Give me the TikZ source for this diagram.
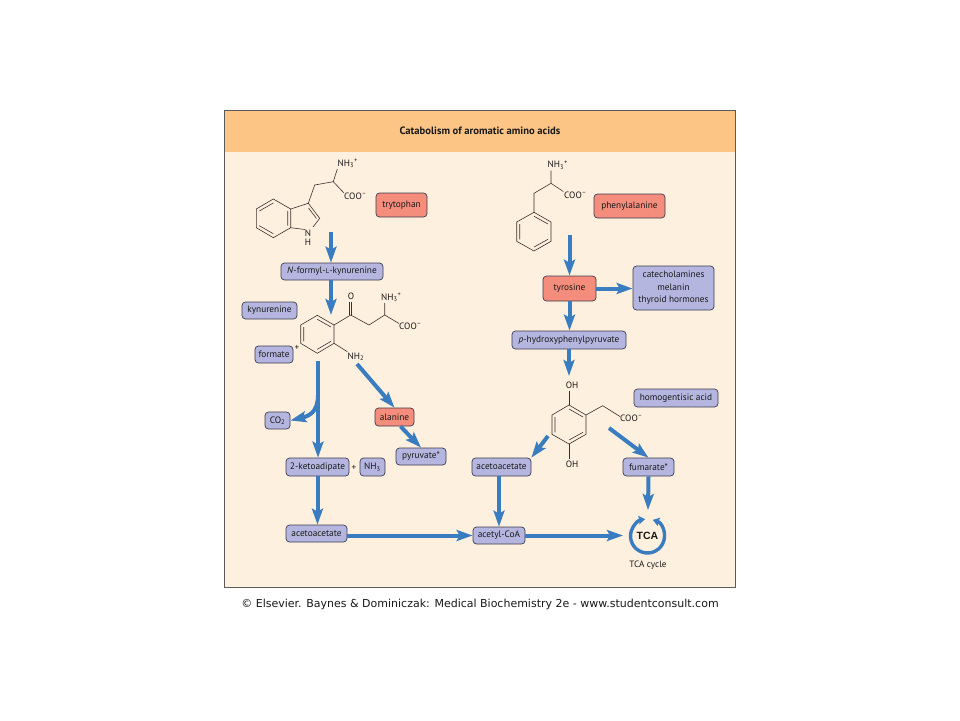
\documentclass[tikz,border=0pt]{standalone}
\usepackage{fontspec}
\setmainfont{PT Sans}
\newfontfamily\footfont{DejaVu Sans}
\newfontfamily\tcafont{Liberation Sans}
\usetikzlibrary{arrows.meta}
\definecolor{panelbg}{HTML}{FEF0DE}
\definecolor{headbg}{HTML}{FDC585}
\definecolor{panelline}{HTML}{5A5A58}
\definecolor{pastelblue}{HTML}{B5B6DF}
\definecolor{pastelred}{HTML}{F58D7C}
\definecolor{boxline}{HTML}{3C3A50}
\definecolor{flowblue}{HTML}{3A7CC0}
\definecolor{bondgrey}{HTML}{3A3230}
\tikzset{
	metabox/.style={draw=boxline, line width=0.7pt, rounded corners=3.5pt, fill=pastelblue, inner sep=0pt, align=center, font=\fontsize{9.3}{12.6}\selectfont, text=black!90},
	keybox/.style={metabox, fill=pastelred},
	flow/.style={draw=flowblue, line width=4pt, -{Stealth[length=16pt, width=11pt, inset=3pt]}},
	ring/.style={draw=flowblue, line width=3.4pt, {Stealth[length=6.5pt, width=8.5pt, inset=1pt]}-{Stealth[length=6.5pt, width=8.5pt, inset=1pt]}},
	bond/.style={draw=bondgrey, line width=0.6pt},
	atom/.style={font=\fontsize{9.2}{11}\selectfont, text=black!90, inner sep=0pt}
}
\begin{document}
\begin{tikzpicture}[x=1pt, y=-1pt]
	\useasboundingbox (0,0) rectangle (960,720);
	\draw[panelline, line width=1pt, fill=panelbg] (224,110) rectangle (735,587);
	\fill[headbg] (224.5,110.5) rectangle (734.5,152);
	\draw[panelline, line width=1pt] (224,110) rectangle (735,587);
	\node[font=\fontsize{10.6}{12}\selectfont\bfseries, text=black!90, inner sep=0pt] (title) at (480,131) {Catabolism of aromatic amino acids};

	%% boxes, left side
	\node[keybox, minimum width=51pt, minimum height=24pt] (trp) at (401.5,205) {trytophan};
	\node[metabox, minimum width=102pt, minimum height=17pt] (formyl) at (332,271.5) {\textit{N}-formyl-{\scriptsize L}-kynurenine};
	\node[metabox, minimum width=55pt, minimum height=17pt] (kyn) at (269.5,310.5) {kynurenine};
	\node[metabox, minimum width=38pt, minimum height=17pt] (formate) at (274,354.5) {formate};
	\node[atom] (plus1) at (297,348) {+};
	\node[metabox, minimum width=25pt, minimum height=17pt] (co2) at (277.5,420.5) {CO\textsubscript{2}};
	\node[metabox, minimum width=63pt, minimum height=18pt] (keto) at (317.5,467) {2-ketoadipate};
	\node[atom] (plus2) at (354,468) {+};
	\node[metabox, minimum width=25pt, minimum height=18pt] (nh3) at (372.5,467) {NH\textsubscript{3}};
	\node[keybox, minimum width=39pt, minimum height=18pt] (ala) at (394.5,417) {alanine};
	\node[metabox, minimum width=50pt, minimum height=17pt] (pyr) at (421,456.5) {pyruvate*};
	\node[metabox, minimum width=61pt, minimum height=17pt] (acetoL) at (316.5,533.5) {acetoacetate};

	%% boxes, right side
	\node[keybox, minimum width=71pt, minimum height=24pt] (phe) at (629.5,206) {phenylalanine};
	\node[keybox, minimum width=53pt, minimum height=25pt] (tyr) at (569.5,288.5) {tyrosine};
	\node[metabox, minimum width=81pt, minimum height=44pt] (cat) at (673.5,288) {catecholamines\\melanin\\thyroid hormones};
	\node[metabox, minimum width=114pt, minimum height=18pt] (hpp) at (569,340) {\textit{p}-hydroxyphenylpyruvate};
	\node[metabox, minimum width=84pt, minimum height=18pt] (hga) at (676,398) {homogentisic acid};
	\node[metabox, minimum width=59pt, minimum height=18pt] (acetoR) at (501.5,467) {acetoacetate};
	\node[metabox, minimum width=51pt, minimum height=18pt] (fum) at (648.5,467) {fumarate*};
	\node[metabox, minimum width=52pt, minimum height=17pt] (coa) at (499,535.5) {acetyl-CoA};
	\node[font=\fontsize{10.5}{12}\selectfont\tcafont\bfseries, text=black!90, inner sep=0pt] (tca) at (647.5,535.5) {TCA};
	\node[atom] (cycle) at (648,565) {TCA cycle};
	\node[font=\fontsize{11}{13}\selectfont\footfont, text=black!90, inner sep=0pt] (foot) at (480,604.5) {© Elsevier. Baynes \& Dominiczak: Medical Biochemistry 2e - www.studentconsult.com};

	%% free ends of the arrows
	\coordinate (trpout) at (331,232);
	\coordinate (kynin) at (331,315);
	\coordinate (kynout) at (318,361);
	\coordinate (split) at (318,395);
	\coordinate (nh2out) at (357,364);
	\coordinate (pheout) at (569.5,235);
	\coordinate (hgain) at (569,376);
	\coordinate (hgaL) at (548,436);
	\coordinate (hgaR) at (609,428);
	\coordinate (tcatop) at (648,510);
	\coordinate (tcaleft) at (623,535.5);

	%% arrows
	\draw[flow] (trpout) -- (formyl.north -| trpout);
	\draw[flow] (formyl.south -| kynin) -- (kynin);
	\draw[flow] (kynout) -- (keto.north -| kynout);
	\draw[flow] (split) .. controls (318,412) and (309,416) .. (co2.east);
	\draw[flow] (nh2out) -- (ala.north);
	\draw[flow] (ala.south) ++(6,0) coordinate (alaout) (alaout) -- (pyr.north);
	\draw[flow] (keto.south) -- (keto.south |- acetoL.north);
	\draw[flow] (acetoL.east |- coa.west) -- (coa.west);
	\draw[flow] (pheout) -- (tyr.north -| pheout);
	\draw[flow] (tyr.south) -- (hpp.north -| tyr.south);
	\draw[flow] (tyr.east) -- (tyr.east -| cat.west);
	\draw[flow] (hpp.south) -- (hgain);
	\draw[flow] (hgaL) -- (acetoR.north east);
	\draw[flow] (hgaR) -- (fum.north);
	\draw[flow] (acetoR.south -| coa.north) -- (coa.north);
	\draw[flow] (fum.south) -- (tcatop);
	\draw[flow] (coa.east) -- (tcaleft);

	%% TCA ring
	\draw[ring] (647.5,536) ++(-72:17) arc[start angle=-72, end angle=262, radius=17];

	%% tryptophan
	\draw[bond] (256.3,209) -- (273.3,199) -- (290.7,209) -- (290.7,227.7) -- (273.3,237.7) -- (256.3,227.7) -- cycle;
	\draw[bond] (259.3,211) -- (273.3,203) (287.7,211) -- (287.7,225.7) (259.3,225.7) -- (273.3,233.7);
	\draw[bond] (290.7,209) -- (308.3,203.3) -- (319.7,218.3) -- (313,227) (305,229.5) -- (290.7,227.7);
	\draw[bond] (308.5,208) -- (316.5,218.5);
	\draw[bond] (308.3,203.3) -- (314.7,185) -- (333.3,181.7) -- (344,193) (333.3,181.7) -- (337.3,169);
	\node[atom] (trpN) at (308,233) {N};
	\node[atom] (trpH) at (308,242.5) {H};
	\node[atom, anchor=west] (trpNH) at (337.5,163.5) {NH\textsubscript{3}\textsuperscript{+}};
	\node[atom, anchor=west] (trpCOO) at (344,196.5) {COO\textsuperscript{--}};

	%% kynurenine ring
	\draw[bond] (300.7,325) -- (317.3,315.3) -- (334,325) -- (334,343.3) -- (317.3,353.3) -- (300.7,343.3) -- cycle;
	\draw[bond] (303.7,327) -- (303.7,341.3) (317.3,319.3) -- (331,327) (317.3,349.3) -- (331,341.3);
	\draw[bond] (334,325) -- (350.7,315) -- (369,325) -- (384.7,315) -- (399,323.5) (384.7,315) -- (384.7,303);
	\draw[bond] (349.7,315) -- (349.7,302) (351.7,315) -- (351.7,302);
	\draw[bond] (334,343.3) -- (347.3,351.7);
	\node[atom] (kynO) at (351,296.5) {O};
	\node[atom, anchor=west] (kynNH) at (381,297.5) {NH\textsubscript{3}\textsuperscript{+}};
	\node[atom, anchor=west] (kynCOO) at (399,326.5) {COO\textsuperscript{--}};
	\node[atom, anchor=west] (kynNH2) at (347.5,356.5) {NH\textsubscript{2}};

	%% phenylalanine
	\draw[bond] (534,212.3) -- (551,222) -- (551,241.3) -- (534,251) -- (516.7,241.3) -- (516.7,222) -- cycle;
	\draw[bond] (534,216.3) -- (548,224) (548,239.3) -- (534,247) (519.7,239.3) -- (519.7,224);
	\draw[bond] (534,212.3) -- (534,193.3) -- (551,183.3) -- (563.3,191.5) (551,183.3) -- (551,170.5);
	\node[atom, anchor=west] (pheNH) at (547.5,165) {NH\textsubscript{3}\textsuperscript{+}};
	\node[atom, anchor=west] (pheCOO) at (564,195.5) {COO\textsuperscript{--}};

	%% homogentisic acid
	\draw[bond] (569,405) -- (586,415) -- (586,434.3) -- (569,444) -- (552,434.3) -- (552,415) -- cycle;
	\draw[bond] (569,409) -- (583,417) (583,432.3) -- (569,440) (555,432.3) -- (555,417);
	\draw[bond] (569,405) -- (569,391) (569,444) -- (569,458.5);
	\draw[bond] (586,415) -- (602.7,405.7) -- (620,416.5);
	\node[atom] (hgaOH) at (572,385.5) {OH};
	\node[atom] (hgaOH2) at (572,464.5) {OH};
	\node[atom, anchor=west] (hgaCOO) at (620,418.5) {COO\textsuperscript{--}};
\end{tikzpicture}
\end{document}
